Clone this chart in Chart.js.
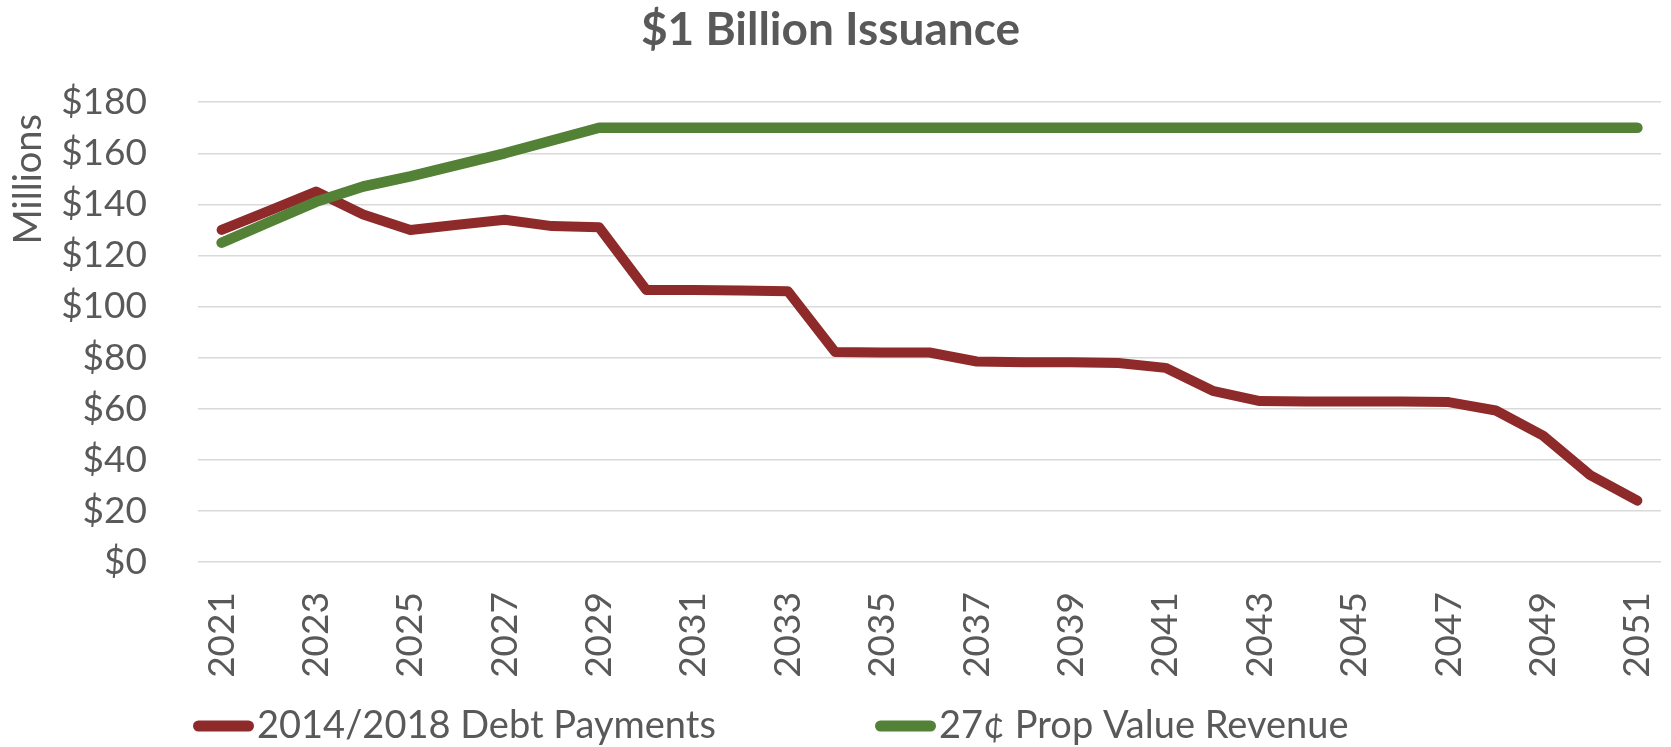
<!DOCTYPE html>
<html>
<head>
<meta charset="utf-8">
<script src="https://cdn.jsdelivr.net/npm/chart.js@4.4.1/dist/chart.umd.min.js"></script>
<style>
  html, body { margin: 0; padding: 0; background: #ffffff; }
  #wrap { width: 1671px; height: 747px; }
</style>
</head>
<body>
<div id="wrap"><canvas id="chart" width="1671" height="747"></canvas></div>
<script>
// ---- Data ----
const chartTitle = '$1 Billion Issuance';
const yAxisTitle = 'Millions';
const years = ['2021','2022','2023','2024','2025','2026','2027','2028','2029','2030',
               '2031','2032','2033','2034','2035','2036','2037','2038','2039','2040',
               '2041','2042','2043','2044','2045','2046','2047','2048','2049','2050','2051'];
const debtPayments = [130, 137.5, 145, 136, 130, 132, 134, 131.5, 131, 106.5,
                      106.5, 106.3, 106, 82.2, 82, 82, 78.5, 78.2, 78.2, 77.9,
                      76, 67, 63, 62.8, 62.8, 62.8, 62.6, 59.3, 49.5, 34, 24];
const propRevenue = [125, 133, 141, 147, 151, 155.5, 160, 165, 170, 170,
                     170, 170, 170, 170, 170, 170, 170, 170, 170, 170,
                     170, 170, 170, 170, 170, 170, 170, 170, 170, 170, 170];
const seriesNames = ['2014/2018 Debt Payments', '27\u00A2 Prop Value Revenue'];
const seriesColors = ['#8F2A2A', '#538135'];
const yTicks = { min: 0, max: 180, step: 20 };

const textColor = '#595959';
const fontFamily = 'Lato, "Open Sans", sans-serif';

// Excel-style legend and axis title placement
const excelDecor = {
  id: 'excelDecor',
  afterDraw(chart) {
    const { ctx, chartArea } = chart;
    ctx.save();
    // y-axis title, rotated, near the top of the axis
    ctx.save();
    ctx.translate(29, chartArea.top + 77);
    ctx.rotate(-Math.PI / 2);
    ctx.fillStyle = textColor;
    ctx.font = '38px ' + fontFamily;
    ctx.textAlign = 'center';
    ctx.textBaseline = 'middle';
    ctx.fillText(yAxisTitle, 0, 0);
    ctx.restore();

    // legend
    const lineY = chart.height - 21;
    const baseY = chart.height - 9.5;
    const swatchW = 61;
    const starts = [chartArea.left - 5, chartArea.left + 677];
    chart.data.datasets.forEach((ds, i) => {
      const x = starts[i];
      ctx.beginPath();
      ctx.strokeStyle = ds.borderColor;
      ctx.lineWidth = 11;
      ctx.lineCap = 'round';
      ctx.moveTo(x + 5.5, lineY);
      ctx.lineTo(x + swatchW - 5.5, lineY);
      ctx.stroke();
      ctx.fillStyle = textColor;
      ctx.font = '38px ' + fontFamily;
      ctx.textAlign = 'left';
      ctx.textBaseline = 'alphabetic';
      ctx.fillText(ds.label, x + 64, baseY);
    });
    ctx.restore();
  }
};

function draw() {
  new Chart(document.getElementById('chart'), {
    type: 'line',
    data: {
      labels: years,
      datasets: [
        { label: seriesNames[0], data: debtPayments, borderColor: seriesColors[0], backgroundColor: seriesColors[0],
          borderWidth: 10, order: 1 },
        { label: seriesNames[1], data: propRevenue, borderColor: seriesColors[1], backgroundColor: seriesColors[1],
          borderWidth: 10.5, order: 0 }
      ]
    },
    options: {
      responsive: false,
      animation: false,
      layout: { padding: { left: 0, right: 10, top: 0, bottom: 0 } },
      elements: {
        point: { radius: 0, hoverRadius: 0 },
        line: { tension: 0, borderCapStyle: 'round', borderJoinStyle: 'round', fill: false }
      },
      plugins: {
        legend: { display: false },
        tooltip: { enabled: false },
        title: {
          display: true,
          text: chartTitle,
          color: textColor,
          font: { family: fontFamily, size: 46, weight: 'bold' },
          padding: { top: 3, bottom: 44 }
        }
      },
      scales: {
        x: {
          offset: true,
          grid: { display: false, drawTicks: false },
          border: { display: false },
          ticks: {
            autoSkip: false,
            minRotation: 90,
            maxRotation: 90,
            padding: 30,
            color: textColor,
            font: { family: fontFamily, size: 37 },
            callback: function (v, i) { return i % 2 === 0 ? this.getLabelForValue(v) : ''; }
          },
          afterFit(scale) {
            scale.height = 185;
            scale.paddingLeft = 0;
            scale.paddingRight = 0;
          }
        },
        y: {
          min: yTicks.min,
          max: yTicks.max,
          grid: { color: '#d9d9d9', lineWidth: 1.5, drawTicks: false },
          border: { display: false },
          ticks: {
            stepSize: yTicks.step,
            padding: 51,
            color: textColor,
            font: { family: fontFamily, size: 37 },
            callback: (v) => '$' + v
          },
          afterFit(scale) { scale.width = 198; }
        }
      }
    },
    plugins: [excelDecor]
  });
}

Promise.all([
  document.fonts.load('37px Lato'),
  document.fonts.load('bold 46px Lato')
]).then(draw, draw);
</script>
</body>
</html>
